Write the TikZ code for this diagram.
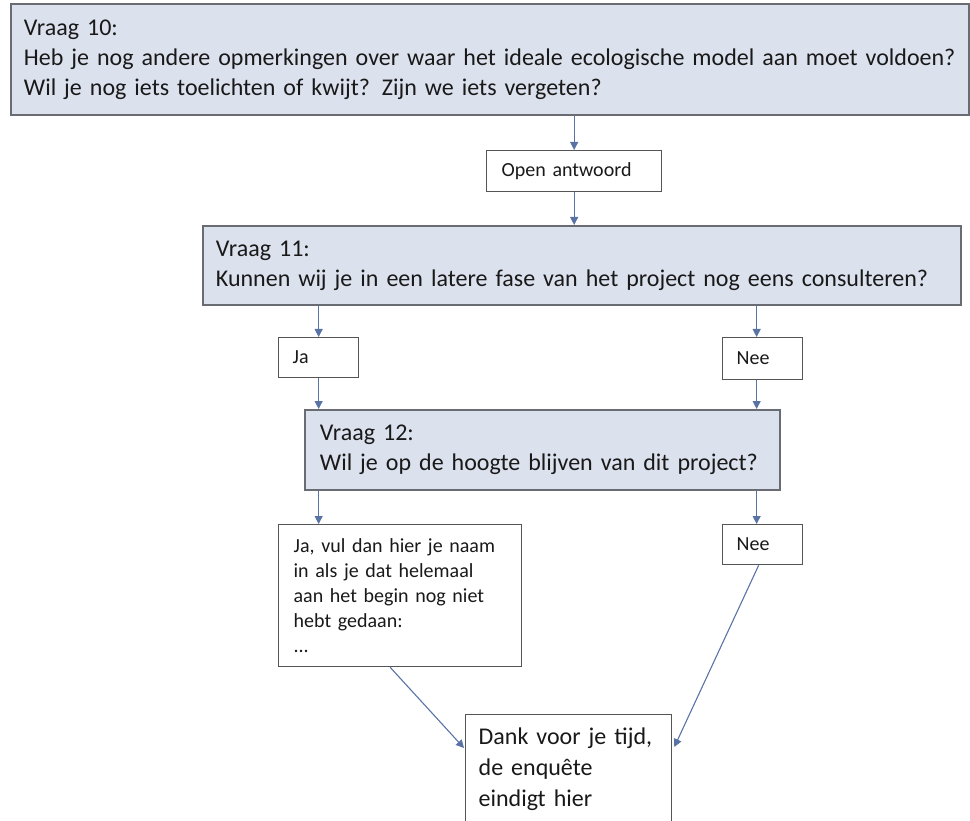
\documentclass[tikz,border=0pt]{standalone}
\usepackage{fontspec}
\setmainfont{Carlito}
\usetikzlibrary{arrows.meta,calc}

\definecolor{qfill}{RGB}{220,225,238}
\definecolor{qdraw}{RGB}{105,108,115}
\definecolor{adraw}{RGB}{85,85,85}
\definecolor{arrowc}{RGB}{90,115,165}
\definecolor{txt}{RGB}{25,25,25}

\tikzset{
  question/.style={draw=qdraw, line width=1.8pt, fill=qfill, anchor=north west,
    align=left, text=txt, inner ysep=0pt, font=\fontsize{24}{30}\selectfont},
  answer/.style={draw=adraw, line width=1.3pt, fill=white, anchor=north west,
    align=left, text=txt, inner ysep=0pt, font=\fontsize{20}{24}\selectfont},
  flow/.style={draw=arrowc, line width=1.1pt, -{Triangle[length=8pt,width=8pt]}},
}

\begin{document}
\begin{tikzpicture}[x=1pt, y=-1pt]
\useasboundingbox (0,0) rectangle (970,821);
\clip (0,0) rectangle (970,821);

% question 10 and its open answer
\node[question, inner xsep=13pt, text width=932pt, minimum height=111pt] (q10) at (10,3)
  {Vraag 10:\\
   Heb je nog andere opmerkingen over waar het ideale ecologische model aan moet voldoen?\\
   Wil je nog iets toelichten of kwijt? Zijn we iets vergeten?};
\node[answer, inner xsep=15pt, text width=145pt, minimum height=41pt] (ans) at (486,150)
  {Open antwoord};

% question 11 with yes / no
\node[question, inner xsep=13pt, text width=732pt, minimum height=79pt] (q11) at (202,225)
  {Vraag 11:\\
   Kunnen wij je in een latere fase van het project nog eens consulteren?};
\node[answer, inner xsep=14pt, text width=52pt, minimum height=40pt] (ja1) at (278,337) {Ja};
\node[answer, inner xsep=14pt, text width=52pt, minimum height=42pt] (nee1) at (722,337) {Nee};

% question 12 with yes / no
\node[question, inner xsep=15pt, text width=445pt, minimum height=80pt] (q12) at (304,409)
  {Vraag 12:\\
   Wil je op de hoogte blijven van dit project?};
\node[answer, inner xsep=15pt, text width=213pt, minimum height=142pt,
      font=\fontsize{20}{25}\selectfont] (ja2) at (278,524)
  {Ja, vul dan hier je naam\\
   in als je dat helemaal\\
   aan het begin nog niet\\
   hebt gedaan:\\
   ...};
\node[answer, inner xsep=14pt, text width=52pt, minimum height=40pt] (nee2) at (722,524) {Nee};

% closing box
\node[answer, inner xsep=13pt, text width=180pt, minimum height=110pt,
      font=\fontsize{24}{31}\selectfont] (dank) at (465,714)
  {Dank voor je tijd,\\
   de enquête\\
   eindigt hier};

% connectors
\coordinate (nx) at ([xshift=-6pt]nee1.north);
\draw[flow] (q10.south -| ans.north) -- (ans.north);
\draw[flow] (ans.south) -- (ans.south |- q11.north);
\draw[flow] (q11.south -| ja1.north) -- (ja1.north);
\draw[flow] (q11.south -| nx) -- (nx);
\draw[flow] (ja1.south) -- (ja1.south |- q12.north);
\draw[flow] (nee1.south -| nx) -- (q12.north -| nx);
\draw[flow] (q12.south -| ja1.south) -- (ja2.north -| ja1.south);
\draw[flow] (q12.south -| nx) -- (nee2.north -| nx);
\draw[flow] ([xshift=-10pt]ja2.south) -- ([xshift=-1pt,yshift=-34pt]dank.north west);
\draw[flow] ([xshift=-4pt]nee2.south) -- ([xshift=2pt,yshift=-33pt]dank.north east);
\end{tikzpicture}
\end{document}
